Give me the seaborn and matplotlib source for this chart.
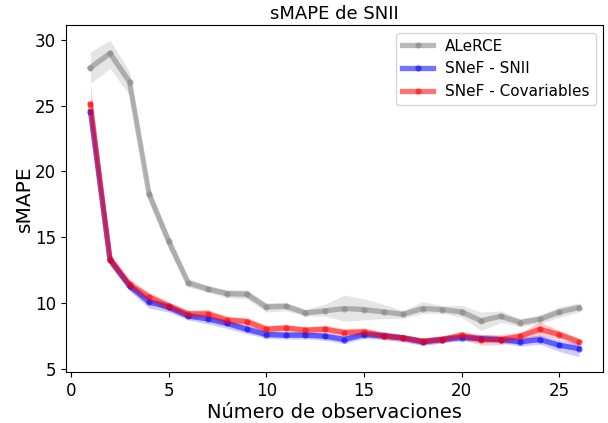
import numpy as np
import pandas as pd
import matplotlib
matplotlib.use("Agg")
import matplotlib.pyplot as plt
import seaborn as sns

n_obs = list(range(1, 27))

alerce_mean = [27.9, 28.99, 26.83, 18.27, 14.69, 11.52, 11.06, 10.7, 10.66, 9.69,
               9.74, 9.24, 9.39, 9.57, 9.49, 9.31, 9.13, 9.57, 9.49, 9.31,
               8.63, 8.98, 8.5, 8.75, 9.31, 9.64]
alerce_low = [26.7, 27.85, 25.8, 17.8, 14.2, 11.2, 10.8, 10.4, 10.3, 9.3,
              9.4, 9.0, 9.0, 8.6, 8.7, 8.8, 8.8, 9.2, 9.2, 8.9,
              7.9, 8.5, 8.2, 8.4, 8.9, 9.3]
alerce_high = [29.1, 30.0, 27.6, 18.8, 15.2, 11.9, 11.3, 11.0, 11.0, 10.0,
               10.05, 9.5, 9.9, 10.6, 10.3, 9.9, 9.4, 10.1, 9.8, 9.8,
               9.3, 9.4, 8.8, 9.1, 9.7, 10.0]

snii_mean = [24.54, 13.3, 11.29, 10.07, 9.67, 9.0, 8.78, 8.43, 7.99, 7.59,
             7.54, 7.54, 7.46, 7.21, 7.59, 7.49, 7.33, 7.03, 7.21, 7.36,
             7.28, 7.21, 7.03, 7.21, 6.77, 6.52]
snii_low = [23.3, 12.8, 10.9, 9.6, 9.3, 8.7, 8.4, 8.05, 7.65, 7.3,
            7.25, 7.25, 7.15, 6.9, 7.3, 7.2, 7.05, 6.75, 6.95, 7.1,
            7.0, 6.95, 6.7, 6.85, 6.3, 5.9]
snii_high = [25.3, 13.7, 11.6, 10.4, 10.0, 9.3, 9.1, 8.7, 8.3, 7.9,
             7.8, 7.8, 7.75, 7.5, 7.9, 7.8, 7.6, 7.3, 7.5, 7.65,
             7.6, 7.5, 7.4, 7.55, 7.2, 6.95]

cov_mean = [25.11, 13.3, 11.4, 10.45, 9.77, 9.16, 9.16, 8.68, 8.58, 7.99,
            8.09, 7.92, 7.99, 7.74, 7.79, 7.49, 7.33, 7.08, 7.21, 7.54,
            7.21, 7.21, 7.46, 7.99, 7.59, 7.03]
cov_low = [23.8, 12.9, 11.0, 10.1, 9.4, 8.85, 8.85, 8.35, 8.25, 7.7,
           7.8, 7.6, 7.7, 7.45, 7.5, 7.2, 7.05, 6.8, 6.95, 7.25,
           6.8, 6.8, 7.15, 7.45, 7.3, 6.7]
cov_high = [26.6, 13.8, 11.8, 10.8, 10.1, 9.45, 9.5, 9.0, 8.9, 8.3,
            8.35, 8.2, 8.3, 8.05, 8.1, 7.8, 7.6, 7.35, 7.5, 7.8,
            7.6, 7.6, 7.75, 8.55, 7.9, 7.35]

series = [
    ("ALeRCE", "gray", alerce_mean, alerce_low, alerce_high),
    ("SNeF - SNII", "blue", snii_mean, snii_low, snii_high),
    ("SNeF - Covariables", "red", cov_mean, cov_low, cov_high),
]

fig = plt.figure(figsize=(6.08, 4.23), dpi=100)
ax = fig.add_axes([0.1086, 0.1194, 0.8837, 0.8215])

for name, col, m, lo, hi in series:
    df = pd.DataFrame({"x": n_obs, "y": m})
    sns.lineplot(data=df, x="x", y="y", ax=ax, color=col, alpha=0.55,
                 linewidth=3.8, marker="o", markersize=4.5, markeredgewidth=0,
                 label=name)
    ax.fill_between(n_obs, lo, hi, color=col, alpha=0.2, linewidth=0)

ax.set_xlim(-0.25, 27.25)
ax.set_ylim(4.7, 31.15)
ax.set_xticks([0, 5, 10, 15, 20, 25])
ax.set_yticks([5, 10, 15, 20, 25, 30])
ax.tick_params(labelsize=12)
ax.set_xlabel("Número de observaciones", fontsize=14, labelpad=2)
ax.set_ylabel("sMAPE", fontsize=14.5, labelpad=1)
ax.set_title("sMAPE de SNII", fontsize=13, pad=4)
ax.legend(loc="upper right", fontsize=11)

fig.savefig("out.png", dpi=100)
